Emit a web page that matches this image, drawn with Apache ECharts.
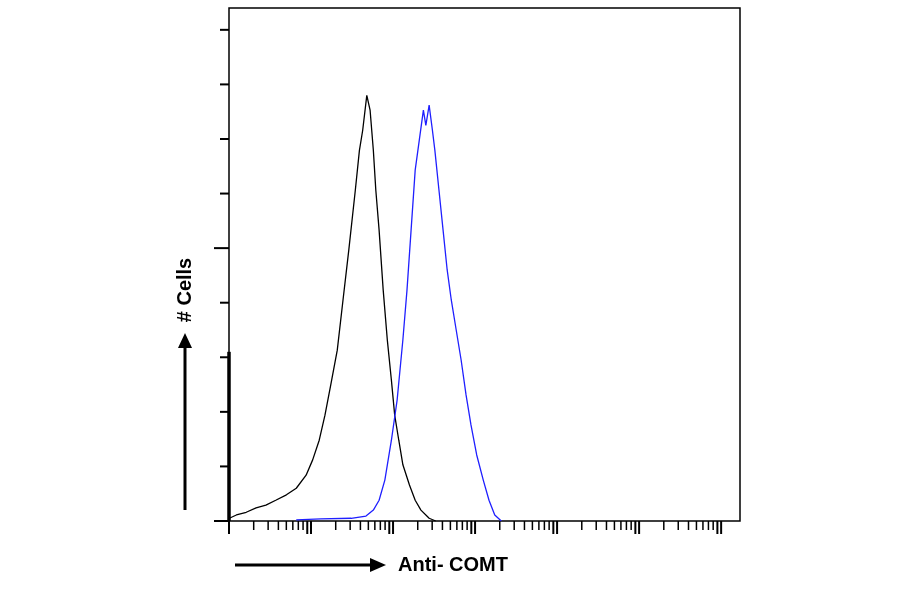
<!DOCTYPE html>
<html><head><meta charset="utf-8">
<script src="https://cdn.jsdelivr.net/npm/echarts@6/dist/echarts.min.js"></script>
<style>html,body{margin:0;background:#fff}#c{width:900px;height:594px}</style>
</head><body><div id="c"></div>
<script>
// log10 decades on x, counts (arb.) on y
const blackX=[0.005,0.09,0.21,0.33,0.45,0.57,0.70,0.82,0.94,1.02,1.10,1.17,1.24,1.32,1.39,1.46,1.54,1.59,1.63,1.68,1.72,1.76,1.79,1.83,1.88,1.93,1.98,2.02,2.07,2.12,2.20,2.27,2.34,2.44,2.52];
const blackY=[0.05,0.11,0.16,0.24,0.29,0.38,0.48,0.60,0.84,1.12,1.48,1.94,2.49,3.13,4.05,4.96,6.06,6.79,7.16,7.80,7.53,6.79,6.06,5.33,4.23,3.32,2.58,1.94,1.48,1.03,0.66,0.38,0.20,0.05,0];
const firstBin=3.10;
const blueX=[0.82,1.12,1.49,1.67,1.76,1.83,1.90,1.98,2.05,2.12,2.17,2.22,2.27,2.32,2.37,2.40,2.44,2.48,2.51,2.56,2.61,2.66,2.71,2.77,2.83,2.89,2.95,3.02,3.10,3.17,3.24,3.32];
const blueY=[0.02,0.04,0.05,0.09,0.20,0.38,0.75,1.48,2.22,3.32,4.23,5.33,6.43,6.98,7.53,7.25,7.62,7.16,6.79,6.06,5.33,4.60,4.05,3.50,2.95,2.31,1.76,1.21,0.75,0.38,0.11,0];
const decades=[0,1,2,3,4,5,6];
const minorK=[2,3,4,5,6,7,8,9];
const yTickVals=[0,1,2,3,4,5,6,7,8,9];
const xTicks=[];
decades.forEach(d=>{xTicks.push([d,1]);if(d<6)minorK.forEach(k=>xTicks.push([d+Math.log10(k),k===9?1:0]));});

const ch=echarts.init(document.getElementById('c'));
const ax={axisLine:{show:false},splitLine:{show:false},axisLabel:{show:false},axisTick:{show:false}};
ch.setOption({
 animation:false,
 grid:{left:229,top:8,right:160,bottom:73,show:true,borderColor:'#000',borderWidth:1.5},
 xAxis:{type:'value',min:0,max:6.23,...ax},
 yAxis:{type:'value',min:0,max:9.4,...ax},
 series:[
  {type:'line',data:blackX.map((x,i)=>[x,blackY[i]]),symbol:'none',lineStyle:{color:'#000',width:1.3},z:3},
  {type:'line',data:[[0,0],[0,firstBin]],symbol:'none',clip:false,lineStyle:{color:'#000',width:3.5},z:4},
  {type:'line',data:blueX.map((x,i)=>[x,blueY[i]]),symbol:'none',lineStyle:{color:'#1f1fff',width:1.3},z:3},
  {type:'custom',data:xTicks,clip:false,renderItem:(p,api)=>{const c=api.coord([api.value(0),0]);const L=api.value(1)?13:9;
    return {type:'line',shape:{x1:c[0],y1:c[1],x2:c[0],y2:c[1]+L},style:{stroke:'#000',lineWidth:api.value(1)?2:1.5}};}},
  {type:'custom',data:yTickVals.map(v=>[0,v]),clip:false,renderItem:(p,api)=>{const c=api.coord([0,api.value(1)]);const v=api.value(1);const L=(v%5===0)?15:9;
    return {type:'line',shape:{x1:c[0],y1:c[1],x2:c[0]-L,y2:c[1]},style:{stroke:'#000',lineWidth:2}};}}
 ],
 graphic:[
  {type:'line',shape:{x1:185,y1:510,x2:185,y2:342},style:{stroke:'#000',lineWidth:3}},
  {type:'polygon',shape:{points:[[178,348],[192,348],[185,333]]},style:{fill:'#000'}},
  {type:'text',x:185,y:290,rotation:Math.PI/2,style:{text:'# Cells',font:'bold 20px "Liberation Sans"',fill:'#000',align:'center',verticalAlign:'middle'}},
  {type:'line',shape:{x1:235,y1:565,x2:375,y2:565},style:{stroke:'#000',lineWidth:3}},
  {type:'polygon',shape:{points:[[370,558],[370,572],[386,565]]},style:{fill:'#000'}},
  {type:'text',x:398,y:565,style:{text:'Anti- COMT',font:'bold 20px "Liberation Sans"',fill:'#000',align:'left',verticalAlign:'middle'}}
 ]
});
</script></body></html>
